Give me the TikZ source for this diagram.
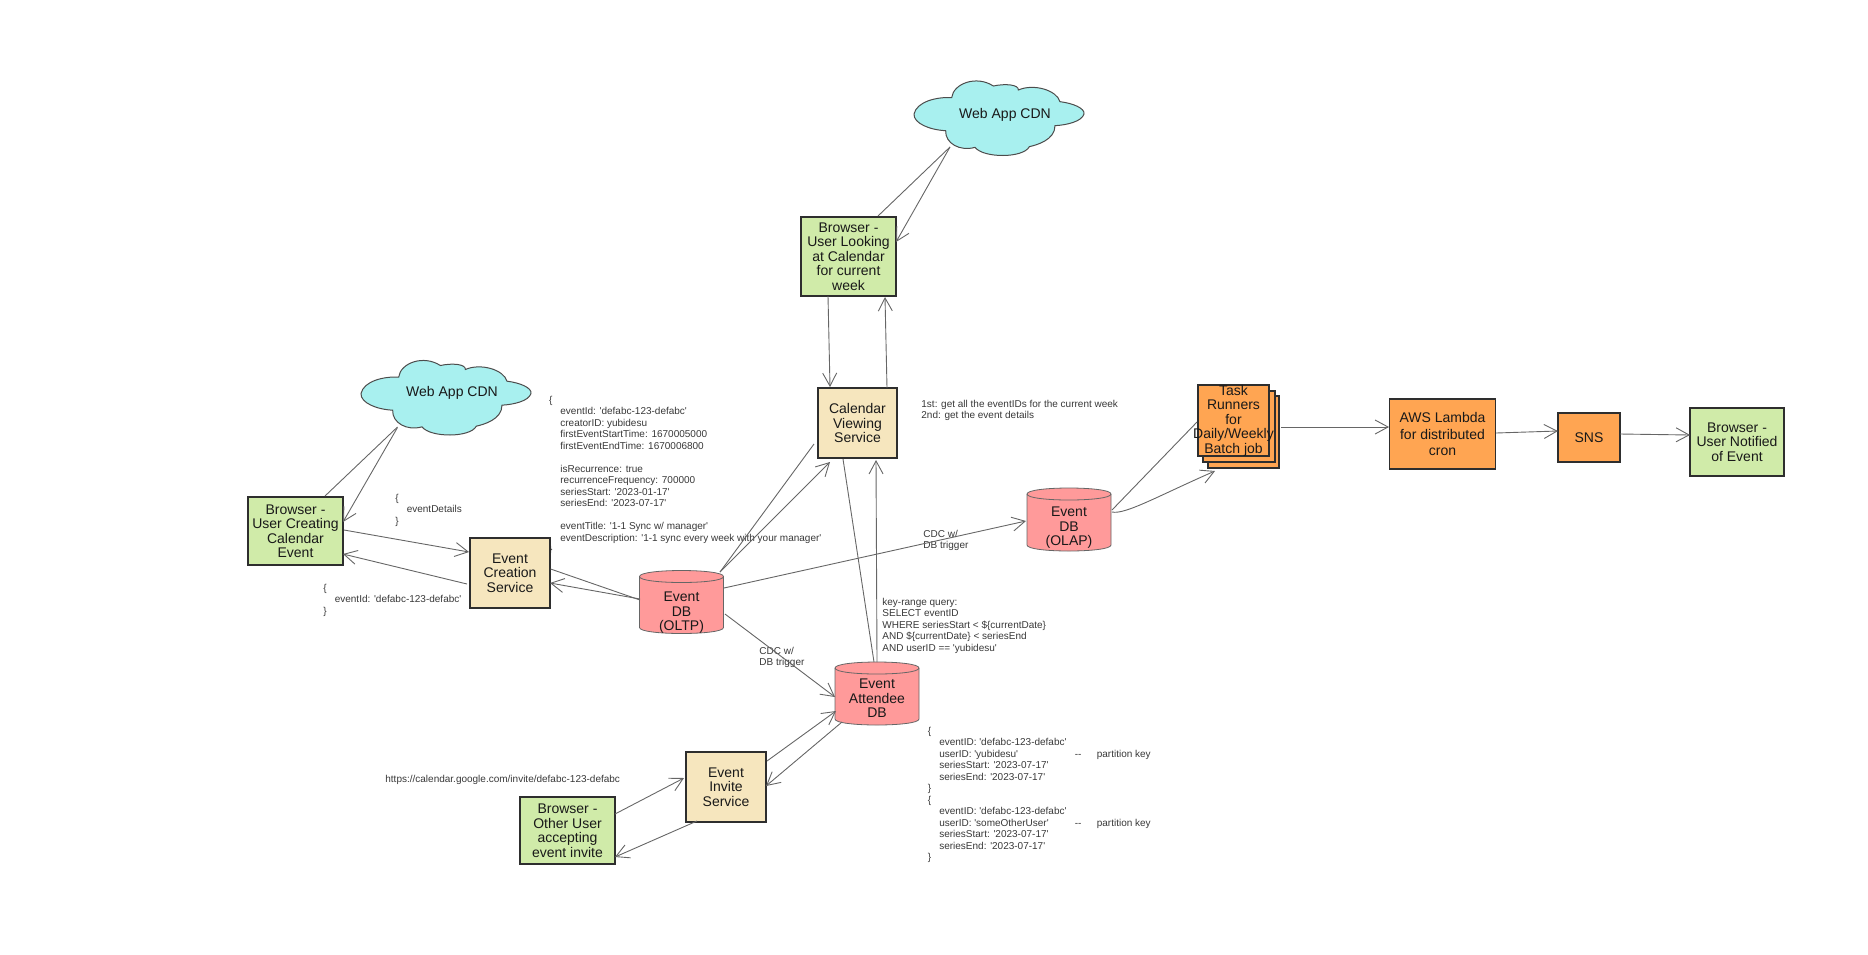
\documentclass[tikz,border=0pt]{standalone}
\usepackage{fontspec}
\newfontfamily\lib{Liberation Sans}
\usetikzlibrary{arrows.meta,backgrounds}
\definecolor{cream}{HTML}{F6E6BE}
\definecolor{lgreen}{HTML}{D0EBA9}
\definecolor{pinkdb}{HTML}{FF9A9A}
\definecolor{cyancl}{HTML}{A8F0EF}
\definecolor{orng}{HTML}{FFA552}
\definecolor{linegray}{HTML}{666666}
\definecolor{boxline}{HTML}{2E2E2E}
\tikzset{
  boxbase/.style={draw=boxline,line width=.65pt,inner sep=0pt,align=center,text=black!90,
    font=\lib\fontsize{7}{7.25}\selectfont,minimum width=#1*.5pt},
  bgreen/.style={boxbase=95,fill=lgreen},
  bcream/.style={boxbase=80,fill=cream},
  borange/.style={boxbase=100,fill=orng},
  dbnode/.style={inner sep=0pt,align=center,text=black!90,font=\lib\fontsize{7}{7.25}\selectfont},
  cloudtext/.style={inner sep=0pt,text=black!90,font=\lib\fontsize{7}{7.25}\selectfont},
  note/.style={inner sep=0pt,align=left,anchor=north west,text=black!78,font=\lib\fontsize{5}{5.75}\selectfont},
  conn/.style={draw=linegray,line width=.45pt},
  arr/.style={conn,-{Straight Barb[length=6.5pt,width=7pt,line width=.45pt]}},
  dbfill/.style={draw=black!60,line width=.4pt,fill=pinkdb},
  cloudfill/.style={draw=black!70,line width=.5pt,fill=cyancl},
  stackfill/.style={draw=boxline,line width=.65pt,fill=orng}
}
\newcommand{\dbshape}[1]{\begin{scope}[shift={(#1.center)}]
  \draw[dbfill] (-42,-25.5) .. controls (-42,-33.5) and (42,-33.5) .. (42,-25.5) -- (42,25.5) .. controls (42,33.5) and (-42,33.5) .. (-42,25.5) -- cycle;
  \draw[dbfill,fill=none] (-42,-25.5) .. controls (-42,-17.5) and (42,-17.5) .. (42,-25.5);
\end{scope}}
\newcommand{\cloudshape}[1]{\begin{scope}[shift={(#1.center)},scale=0.3333]
  \draw[cloudfill] (-255,-12) .. controls (-247,-49) and (-187,-64) .. (-142,-61)
    .. controls (-137,-104) and (-67,-129) .. (-17,-96)
    .. controls (20,-104) and (60,-100) .. (58,-84)
    .. controls (103,-104) and (173,-84) .. (183,-49)
    .. controls (223,-44) and (258,-29) .. (255,-12)
    .. controls (248,11) and (203,21) .. (168,23)
    .. controls (168,66) and (113,81) .. (91,86)
    .. controls (73,121) and (-47,121) .. (-72,88)
    .. controls (-117,101) and (-162,76) .. (-160,38)
    .. controls (-207,36) and (-257,16) .. (-255,-12) -- cycle;
\end{scope}}
\newcommand{\ind}{\hspace*{5.7pt}}
\begin{document}
\begin{tikzpicture}[x=.5pt,y=-.5pt]
\useasboundingbox (0,0) rectangle (1868,954);
% notes
\node[note] (n1) at (548.6,395) {\strut\{\\\ind eventId: 'defabc-123-defabc'\\\ind creatorID: yubidesu\\\ind firstEventStartTime: 1670005000\\\ind firstEventEndTime: 1670006800\\\strut\\\ind isRecurrence: true\\\ind recurrenceFrequency: 700000\\\ind seriesStart: '2023-01-17'\\\ind seriesEnd: '2023-07-17'\\\strut\\\ind eventTitle: '1-1 Sync w/ manager'\\\ind eventDescription: '1-1 sync every week with your manager'\\\}};
\node[note] (n2) at (395,493) {\strut\{\\\ind eventDetails\\\}};
\node[note] (n3) at (323,583) {\strut\{\\\ind eventId: 'defabc-123-defabc'\\\}};
\node[note] (n4) at (759,646) {\strut CDC w/\\DB trigger};
\node[note] (n5) at (923,529) {\strut CDC w/\\DB trigger};
\node[note] (n6) at (921,399) {\strut 1st: get all the eventIDs for the current week\\2nd: get the event details};
\node[note] (n7) at (882,597) {\strut key-range query:\\SELECT eventID\\WHERE seriesStart < \$\{currentDate\}\\AND \$\{currentDate\} < seriesEnd\\AND userID == 'yubidesu'};
\node[note] (n8) at (927.5,726) {\strut\{\\\ind eventID: 'defabc-123-defabc'\\\ind \makebox[67.75pt][l]{userID: 'yubidesu'}\makebox[11pt][l]{--}partition key\\\ind seriesStart: '2023-07-17'\\\ind seriesEnd: '2023-07-17'\\\}\\\{\\\ind eventID: 'defabc-123-defabc'\\\ind \makebox[67.75pt][l]{userID: 'someOtherUser'}\makebox[11pt][l]{--}partition key\\\ind seriesStart: '2023-07-17'\\\ind seriesEnd: '2023-07-17'\\\}};
\node[note] (n9) at (385,774) {\strut https://calendar.google.com/invite/defabc-123-defabc};
% stacked sheets behind the task runner box
\draw[stackfill] (1208,396) rectangle (1279,468);
\draw[stackfill] (1203,391) rectangle (1275,462);
% boxes
\node[bgreen,minimum height=34pt] (brC) at (295.5,531) {Browser -\\User Creating\\Calendar\\Event};
\node[bcream,minimum height=35pt] (ecs) at (510,573) {Event\\Creation\\Service};
\node[bcream,boxbase=79,minimum height=35pt] (cvs) at (857.5,423) {Calendar\\Viewing\\Service};
\node[bgreen,minimum height=39.5pt] (brL) at (848.5,256.5) {Browser -\\User Looking\\at Calendar\\for current\\week};
\node[bcream,minimum height=35pt] (inv) at (726,787) {Event\\Invite\\Service};
\node[bgreen,minimum height=33.5pt] (brO) at (567.5,830.5) {Browser -\\Other User\\accepting\\event invite};
\node[borange,boxbase=71,minimum height=35.5pt,fill=orng] (task) at (1233.5,420.5) {\phantom{x}};
\node[cloudtext,align=center] (taskt) at (task.center) {Task\\Runners\\for\\Daily/Weekly\\Batch job};
\node[borange,boxbase=105.5,minimum height=35pt] (lam) at (1442.5,434) {AWS Lambda\\[1.2pt]for distributed\\[1.2pt]cron};
\node[borange,boxbase=62,minimum height=24.5pt] (sns) at (1589,437.5) {SNS};
\node[bgreen,boxbase=94,minimum height=34pt] (ntf) at (1737,442) {Browser -\\User Notified\\of Event};
% cylinders
\node[dbnode,minimum width=42pt,minimum height=31pt] (oltp) at (681.5,602) {\rule{0pt}{15.5pt}Event\\DB\\(OLTP)};
\node[dbnode,minimum width=42pt,minimum height=31pt] (olap) at (1069,519.5) {\rule{0pt}{13pt}Event\\DB\\(OLAP)};
\node[dbnode,minimum width=42pt,minimum height=31pt] (att) at (877,693.5) {\rule{0pt}{9.5pt}Event\\Attendee\\DB};
% clouds
\node[cloudtext,minimum width=85pt,minimum height=39pt] (cdnA) at (446,397.5) {};
\node[cloudtext] (cdnAt) at (452,393) {Web App CDN};
\node[cloudtext,minimum width=85pt,minimum height=39pt] (cdnB) at (999,118) {};
\node[cloudtext] (cdnBt) at (1005,114.5) {Web App CDN};
\begin{scope}[on background layer]
  \dbshape{oltp}\dbshape{olap}\dbshape{att}
  \cloudshape{cdnA}\cloudshape{cdnB}
\end{scope}
% connectors
\draw[conn] ([shift={(29.5,-35)}]brC.center) -- ([shift={(-48.5,29.5)}]cdnA.center);
\draw[arr] ([shift={(-48.5,30)}]cdnA.center) -- ([shift={(47.5,-9)}]brC.center);
\draw[arr] ([shift={(48.5,-1)}]brC.center) -- ([shift={(-41,-21)}]ecs.center);
\draw[arr] ([shift={(-43,11)}]ecs.center) -- ([shift={(47.5,23)}]brC.center);
\draw[arr] ([shift={(-41.5,-3)}]oltp.center) -- ([shift={(40,10)}]ecs.center);
\draw[conn] ([shift={(40.6,-4)}]ecs.center) -- ([shift={(-41.5,-2)}]oltp.center);
\draw[conn] ([shift={(38.5,-30)}]oltp.center) -- ([shift={(-43.5,21)}]cvs.center);
\draw[arr] ([shift={(38.5,-30)}]oltp.center) -- ([shift={(-27.5,39)}]cvs.center);
\draw[arr] ([shift={(42.5,-14)}]oltp.center) -- ([shift={(-43,1.5)}]olap.center);
\draw[arr] ([shift={(43.5,12)}]oltp.center) -- ([shift={(-42,3.5)}]att.center);
\draw[arr] ([shift={(-20.5,39.5)}]brL.center) -- ([shift={(-27.5,-36)}]cvs.center);
\draw[arr] ([shift={(29.5,-35)}]cvs.center) -- ([shift={(36.5,40.5)}]brL.center);
\draw[conn] ([shift={(-14.5,36)}]cvs.center) -- ([shift={(-3,-31.5)}]att.center);
\draw[arr] ([shift={(0,-31.5)}]att.center) -- ([shift={(18.5,37)}]cvs.center);
\draw[conn] ([shift={(29.5,-40.5)}]brL.center) -- ([shift={(-49,29)}]cdnB.center);
\draw[arr] ([shift={(-49,29)}]cdnB.center) -- ([shift={(47.5,-14.5)}]brL.center);
\draw[conn] ([shift={(43,-9.5)}]olap.center) -- ([shift={(-36.5,1.5)}]task.center);
\draw[arr] ([shift={(43,-7.5)}]olap.center) .. controls ([shift={(56,-4.5)}]olap.center) and ([shift={(-73.5,74.5)}]task.center) .. ([shift={(-18.5,50.5)}]task.center);
\draw[arr] ([shift={(47.5,6.5)}]task.center) -- ([shift={(-53.5,-7)}]lam.center);
\draw[arr] ([shift={(53.5,-1)}]lam.center) -- ([shift={(-31,-6.5)}]sns.center);
\draw[arr] ([shift={(31,-3.5)}]sns.center) -- ([shift={(-47,-7)}]ntf.center);
\draw[arr] ([shift={(41,-26)}]inv.center) -- ([shift={(-41,17.5)}]att.center);
\draw[arr] ([shift={(-35,28.5)}]att.center) -- ([shift={(40,-1)}]inv.center);
\draw[arr] ([shift={(47.5,-16.5)}]brO.center) -- ([shift={(-42,-9)}]inv.center);
\draw[arr] ([shift={(-29,34)}]inv.center) -- ([shift={(47.5,26.5)}]brO.center);
\end{tikzpicture}
\end{document}
